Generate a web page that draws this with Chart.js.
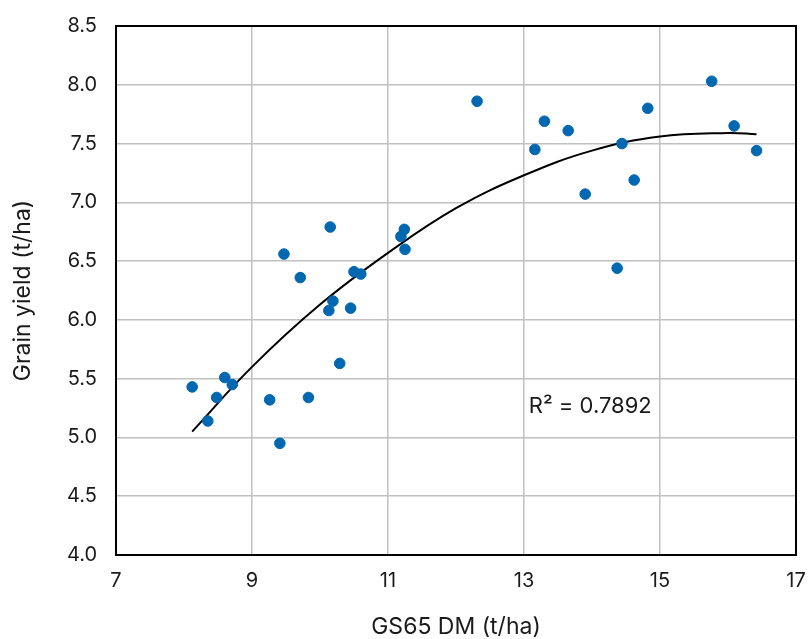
<!DOCTYPE html>
<html>
<head>
<meta charset="utf-8">
<script src="https://cdn.jsdelivr.net/npm/chart.js@4.4.1/dist/chart.umd.min.js"></script>
<style>
  html, body { margin: 0; padding: 0; background: #fff; }
  #wrap { width: 809px; height: 639px; }
</style>
</head>
<body>
<div id="wrap"><canvas id="yieldChart" width="809" height="639"></canvas></div>
<script>
// GS65 dry matter (t/ha) vs grain yield (t/ha)
const dmValues = [8.12, 8.35, 8.48, 8.60, 8.71, 9.26, 9.41, 9.47, 9.71, 9.83,
                  10.15, 10.13, 10.19, 10.29, 10.45, 10.50, 10.60, 11.19, 11.24, 11.25,
                  12.31, 13.16, 13.30, 13.65, 13.90, 14.37, 14.44, 14.62, 14.82, 15.76,
                  16.09, 16.42];
const yieldValues = [5.43, 5.14, 5.34, 5.51, 5.45, 5.32, 4.95, 6.56, 6.36, 5.34,
                     6.79, 6.08, 6.16, 5.63, 6.10, 6.41, 6.39, 6.71, 6.77, 6.60,
                     7.86, 7.45, 7.69, 7.61, 7.07, 6.44, 7.50, 7.19, 7.80, 8.03,
                     7.65, 7.44];

// trend line (polynomial)
const trendX = [8.12, 9, 10, 11, 12, 13, 14, 15, 16, 16.42];
const trendY = [5.05, 5.60, 6.13, 6.57, 6.95, 7.23, 7.44, 7.56, 7.59, 7.58];

const rSquaredLabel = 'R\u00B2 = 0.7892';

const textColor = '#1a1a1a';
const fontFamily = 'Inter, "Liberation Sans", Arial, sans-serif';

const points = dmValues.map((x, i) => ({ x: x, y: yieldValues[i] }));
const trend = trendX.map((x, i) => ({ x: x, y: trendY[i] }));

// frame round the plot area + R² text
const framePlugin = {
    id: 'frame',
    afterDraw(chart) {
        const { ctx, chartArea, scales } = chart;
        ctx.save();
        ctx.strokeStyle = '#000';
        ctx.lineWidth = 2;
        ctx.strokeRect(chartArea.left, chartArea.top,
                       chartArea.right - chartArea.left, chartArea.bottom - chartArea.top);
        ctx.fillStyle = textColor;
        ctx.font = '22px ' + fontFamily;
        ctx.textAlign = 'left';
        ctx.textBaseline = 'middle';
        ctx.fillText(rSquaredLabel, scales.x.getPixelForValue(13.07), scales.y.getPixelForValue(5.26));
        ctx.restore();
    }
};

const ctx = document.getElementById('yieldChart').getContext('2d');

const yieldChart = new Chart(ctx, {
    type: 'scatter',
    data: {
        datasets: [
            {
                label: 'Grain yield',
                data: points,
                backgroundColor: '#0067b1',
                borderColor: '#0067b1',
                pointRadius: 5.3,
                pointHoverRadius: 5.3,
                order: 0
            },
            {
                label: 'Trend',
                type: 'line',
                data: trend,
                borderColor: '#000',
                borderWidth: 2,
                pointRadius: 0,
                fill: false,
                tension: 0.4,
                order: 1
            }
        ]
    },
    options: {
        responsive: false,
        animation: false,
        layout: { padding: { top: 26, right: 13, left: 0, bottom: 0 } },
        plugins: {
            legend: { display: false },
            tooltip: { enabled: false }
        },
        scales: {
            x: {
                type: 'linear',
                min: 7,
                max: 17,
                afterFit: (scale) => {
                    scale.height = 84;
                    scale.paddingLeft = 0;
                    scale.paddingRight = 0;
                },
                ticks: {
                    stepSize: 2,
                    color: textColor,
                    padding: 14,
                    font: { family: fontFamily, size: 20 },
                    maxRotation: 0
                },
                grid: { color: '#c0c0c0', lineWidth: 1.5, drawTicks: false },
                border: { display: false },
                title: {
                    display: true,
                    text: 'GS65 DM (t/ha)',
                    color: textColor,
                    font: { family: fontFamily, size: 23, lineHeight: 1 },
                    padding: { top: 0, bottom: 0 }
                }
            },
            y: {
                type: 'linear',
                min: 4,
                max: 8.5,
                afterFit: (scale) => {
                    scale.width = 116;
                    scale.paddingTop = 0;
                    scale.paddingBottom = 0;
                },
                ticks: {
                    stepSize: 0.5,
                    color: textColor,
                    padding: 19,
                    font: { family: fontFamily, size: 20 },
                    callback: (v) => Number(v).toFixed(1)
                },
                grid: { color: '#c0c0c0', lineWidth: 1.5, drawTicks: false },
                border: { display: false },
                title: {
                    display: true,
                    text: 'Grain yield (t/ha)',
                    color: textColor,
                    font: { family: fontFamily, size: 23, lineHeight: 1 },
                    padding: { top: 12, bottom: 0 }
                }
            }
        }
    },
    plugins: [framePlugin]
});
</script>
</body>
</html>
